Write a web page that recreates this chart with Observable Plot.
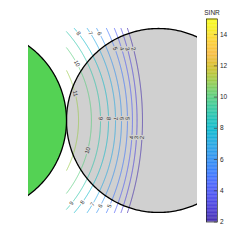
<!DOCTYPE html>
<html><head><meta charset="utf-8">
<script src="https://cdn.jsdelivr.net/npm/d3@7"></script>
<script src="https://cdn.jsdelivr.net/npm/@observablehq/plot@0.6"></script>
<style>
html,body{margin:0;padding:0;background:#fff;}
#wrap{position:relative;width:249px;height:249px;font-family:"Liberation Sans",Arial,sans-serif;}
#wrap > svg{position:absolute;top:0;}
</style></head><body><div id="wrap"></div>
<script>
// Cells (data units = cell radius)
const cellNames = ["serving", "neighbor"];
const cellX = [-1, 1];
const cellY = [0, 0];
const cellRadius = [1, 1];

// SINR contour levels and their (approximately circular) shapes
const levels = [11, 10, 9, 8, 7, 6, 5, 4, 3, 2];
const contourCenterX = [-1.065, -1.022, -1.076, -1.076, -1.25, -1.391, -1.641, -1.935, -2.19, -2.326];
const contourRadius = [1.196, 1.293, 1.446, 1.533, 1.783, 1.989, 2.304, 2.652, 2.957, 3.152];

// Contour labels: level and data y where the label sits
const labelLevels = [8, 7, 6, 10, 11, 5, 4, 3, 2, 9, 8, 7, 6, 5, 4, 3, 2, 10, 9, 8, 7, 6, 5];
const labelYs = [0.946, 0.946, 0.946, 0.62, 0.293, 0.78, 0.78, 0.78, 0.78, 0.02, 0.02, 0.02, 0.02, 0.02, -0.185, -0.185, -0.185, -0.326, -0.90, -0.89, -0.91, -0.93, -0.93];

// Colorbar
const sinrDomain = [2, 15];
const colorbarTicks = [2, 4, 6, 8, 10, 12, 14];

// parula colormap anchors
const parulaPos = [0,4,8,12,16,20,24,28,32,36,40,44,48,52,56,60,63];
const parulaRGB = [
 [0.2422,0.1504,0.6603],[0.2706,0.2147,0.8364],[0.2813,0.3006,0.9414],[0.2699,0.3892,0.9906],
 [0.1963,0.4847,0.9892],[0.1687,0.5703,0.9359],[0.1248,0.6459,0.8883],[0.0297,0.7082,0.8163],
 [0.0964,0.7500,0.7120],[0.2161,0.7843,0.5923],[0.3909,0.8029,0.4354],[0.6174,0.7876,0.2612],
 [0.8203,0.7498,0.1535],[0.9728,0.7298,0.2394],[0.9892,0.8136,0.1885],[0.9628,0.9373,0.1265],
 [0.9769,0.9839,0.0805]];
const parulaScale = d3.scaleLinear().domain(parulaPos.map(p => p / 63))
  .range(parulaRGB.map(c => d3.rgb(c[0]*255, c[1]*255, c[2]*255).toString()))
  .interpolate(d3.interpolateRgb).clamp(true);
const parula = t => parulaScale(t);

// data extent of the SINR grid (bounding box of neighbor cell)
const gridX0 = 0, gridY0 = -1, gridY1 = 1;

const circlePts = (cx, cy, r, name) => d3.range(0, 361, 1).map(a => ({
  name, x: cx + r * Math.cos(a * Math.PI / 180), y: cy + r * Math.sin(a * Math.PI / 180)
}));
const greenPts = circlePts(cellX[0], cellY[0], cellRadius[0], cellNames[0]);
const grayPts = circlePts(cellX[1], cellY[1], cellRadius[1], cellNames[1]);

const contourPts = [];
levels.forEach((lv, i) => {
  const cx = contourCenterX[i], r = contourRadius[i];
  for (let k = 0; k <= 400; k++) {
    const y = gridY0 + (gridY1 - gridY0) * k / 400;
    const x = cx + Math.sqrt(r * r - y * y);
    if (x >= gridX0) contourPts.push({level: lv, x, y});
  }
});

const labels = labelLevels.map((lv, i) => {
  const j = levels.indexOf(lv);
  const cx = contourCenterX[j], r = contourRadius[j];
  const y = labelYs[i];
  const x = cx + Math.sqrt(r * r - y * y);
  let ang = Math.atan2(x - cx, y) * 180 / Math.PI;
  if (ang > 90) ang -= 180;
  if (ang < -90) ang += 180;
  const inside = (x - cellX[1]) ** 2 + (y - cellY[1]) ** 2 < cellRadius[1] ** 2;
  return {level: lv, x, y, rot: ang, inside};
});
const labelsIn = labels.filter(d => d.inside);
const labelsOut = labels.filter(d => !d.inside);

const colorOpts = {type: "linear", domain: sinrDomain, interpolate: parula};
const textOpts = {x: "x", y: "y", text: d => String(d.level), rotate: "rot", fontSize: 5.8, fill: "#333", strokeWidth: 2.6, clip: true};

const main = Plot.plot({
  width: 249, height: 249,
  marginLeft: 28, marginRight: 52, marginTop: 27, marginBottom: 36,
  x: {domain: [-0.413, 1.424], axis: null},
  y: {domain: [-1.011, 1.011], axis: null},
  color: colorOpts,
  style: {background: "transparent", fontFamily: "Liberation Sans, Arial, sans-serif"},
  marks: [
    Plot.line(grayPts, {x: "x", y: "y", fill: "#d0d0d0", stroke: "none", clip: true}),
    Plot.line(contourPts, {x: "x", y: "y", z: "level", stroke: "level", strokeWidth: 0.7, clip: true}),
    Plot.text(labelsIn, {...textOpts, stroke: "#d0d0d0"}),
    Plot.text(labelsOut, {...textOpts, stroke: "white"}),
    Plot.line(grayPts, {x: "x", y: "y", stroke: "black", strokeWidth: 1.3, clip: true}),
    Plot.line(greenPts, {x: "x", y: "y", fill: "#54d254", stroke: "black", strokeWidth: 1.3, clip: true})
  ]
});

const steps = d3.range(sinrDomain[0], sinrDomain[1], 0.05);
const cbar = Plot.plot({
  width: 249, height: 249,
  marginLeft: 206, marginRight: 32, marginTop: 18.5, marginBottom: 27.5,
  x: {domain: [0, 1], axis: null},
  y: {domain: sinrDomain, axis: null},
  color: colorOpts,
  style: {background: "transparent", fontFamily: "Liberation Sans, Arial, sans-serif"},
  marks: [
    Plot.rect(steps, {x1: 0, x2: 1, y1: d => d, y2: d => Math.min(d + 0.06, sinrDomain[1]), fill: d => d + 0.025}),
    Plot.ruleY(colorbarTicks, {x1: 0.72, x2: 1, stroke: "#333", strokeWidth: 0.6}),
    Plot.frame({stroke: "#222", strokeWidth: 0.7}),
    Plot.axisY(colorbarTicks, {anchor: "right", tickSize: 0, tickPadding: 2.5, fontSize: 6.5, fill: "#262626"}),
    Plot.text(["SINR"], {x: 0.5, y: sinrDomain[1], dy: -6, fontSize: 6.5, fill: "#262626", textAnchor: "middle"})
  ]
});

const wrap = document.getElementById("wrap");
wrap.appendChild(main);
wrap.appendChild(cbar);
</script>
</body></html>
